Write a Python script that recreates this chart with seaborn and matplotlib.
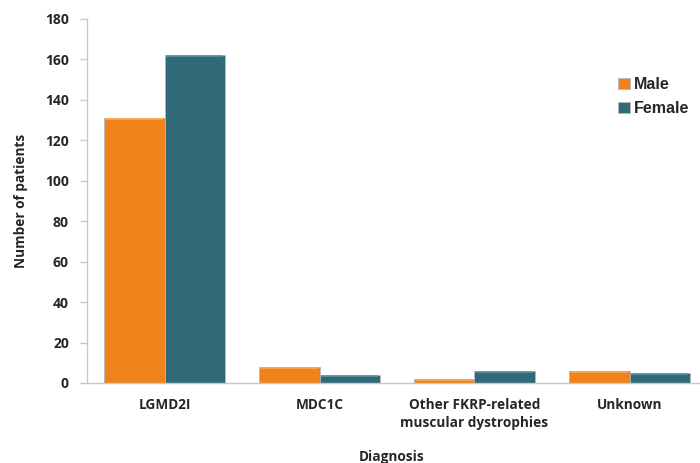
import pandas as pd
import numpy as np
import matplotlib
matplotlib.use('Agg')
import matplotlib.pyplot as plt
import seaborn as sns

# values
diagnoses = ['LGMD2I', 'MDC1C', 'Other FKRP-related\nmuscular dystrophies', 'Unknown']
male = [131, 8, 2, 6]
female = [162, 4, 6, 5]
sexes = ['Male', 'Female']

df = pd.DataFrame({
    'Diagnosis': diagnoses * 2,
    'Sex': ['Male'] * len(diagnoses) + ['Female'] * len(diagnoses),
    'Patients': male + female,
})

sns.set_style('white')
plt.rcParams['font.family'] = ['Open Sans', 'DejaVu Sans']

orange = '#F0821C'
teal = '#306A78'

fig = plt.figure(figsize=(7, 4.63), dpi=100)
ax = fig.add_axes([87 / 700, 80 / 463, 620 / 700, 364 / 463])

sns.barplot(data=df, x='Diagnosis', y='Patients', hue='Sex', hue_order=sexes,
            palette=[orange, teal], width=0.78, saturation=1,
            edgecolor='#b8b8b8', linewidth=0.6, ax=ax, legend=True)

# light top highlight to hint at the bevelled bars
for patch, col in zip(ax.patches, [orange] * 4 + [teal] * 4):
    x0 = patch.get_x()
    w = patch.get_width()
    h = patch.get_height()
    hl = '#F8A950' if col == orange else '#5E93A0'
    ax.plot([x0 + 0.01, x0 + w - 0.01], [h - 0.4, h - 0.4], color=hl, lw=1.2,
            solid_capstyle='butt')

ax.set_xlim(-0.5, 3.5)
ax.set_ylim(0, 180)
ax.set_yticks(np.arange(0, 181, 20))

for s in ['top', 'right']:
    ax.spines[s].set_visible(False)
for s in ['left', 'bottom']:
    ax.spines[s].set_color('#c8c8c8')
    ax.spines[s].set_linewidth(1.0)

ax.set_xticks([0.5, 1.5, 2.5, -0.5], minor=True)
ax.tick_params(axis='x', which='major', length=0, pad=11)
ax.tick_params(axis='x', which='minor', length=7, color='#c8c8c8', width=1)
ax.tick_params(axis='y', length=5, color='#c8c8c8', width=1, pad=8, left=True)

for lab in ax.get_xticklabels():
    lab.set_fontweight('bold')
    lab.set_fontsize(9.8)
    lab.set_linespacing(1.3)
for lab in ax.get_yticklabels():
    lab.set_fontweight('bold')
    lab.set_fontsize(10)

ax.set_ylabel('Number of patients', fontsize=9.8, fontweight='bold', labelpad=12)
ax.set_xlabel('')
fig.text(392 / 700, 1 - 457 / 463, 'Diagnosis', ha='center', va='center',
         fontsize=9.8, fontweight='bold')

leg = ax.legend(loc='upper left', bbox_to_anchor=(604 / 700, 1 - 63 / 463),
                bbox_transform=fig.transFigure, frameon=False,
                handlelength=0.7, handleheight=0.7, handletextpad=0.3,
                labelspacing=0.55, prop={'family': 'Liberation Sans',
                                         'weight': 'bold', 'size': 11.5})
for h in leg.legend_handles:
    h.set_edgecolor('#b8b8b8')

fig.savefig('out.png', dpi=100)
